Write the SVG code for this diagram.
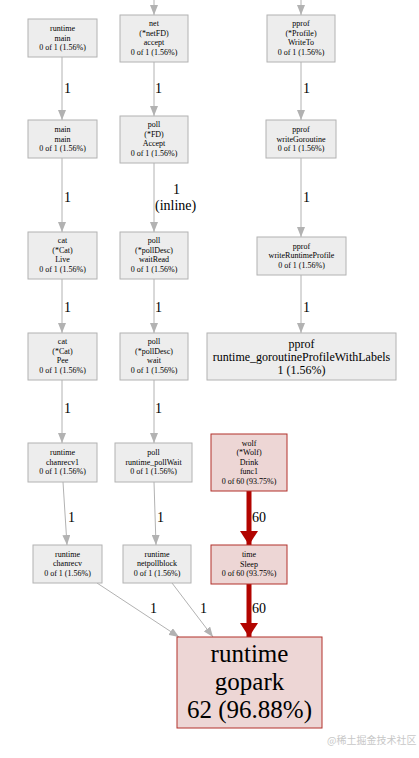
<svg xmlns="http://www.w3.org/2000/svg" width="419" height="758" viewBox="0 0 419 758">
<defs>
<style>
.n rect{fill:#ededed;stroke:#b2b2b2;stroke-width:1}
.h rect{fill:#edd6d5;stroke:#b2302b;stroke-width:1}
text{font-family:"Liberation Serif","Times New Roman",serif;fill:#000;text-anchor:middle}
.s{font-size:8px}
.m{font-size:12px}
.b{font-size:25px}
.l{font-size:14px;text-anchor:start}
.e{stroke:#b2b2b2;stroke-width:1;fill:none;marker-end:url(#ag)}
.r{stroke:#b20400;stroke-width:5;fill:none;marker-end:url(#ar)}
.wm{font-family:"Noto Sans CJK SC","Liberation Sans",sans-serif;font-size:10px;fill:#c8c8c8;text-anchor:start}
</style>
<marker id="ag" markerUnits="userSpaceOnUse" viewBox="0 0 10 8" refX="10" refY="4" markerWidth="10" markerHeight="8" orient="auto"><path d="M0,0L10,4L0,8Z" fill="#b2b2b2"/></marker>
<marker id="ar" markerUnits="userSpaceOnUse" viewBox="0 0 14 18" refX="14" refY="9" markerWidth="14" markerHeight="18" orient="auto"><path d="M0,0L14,9L0,18Z" fill="#b20400"/></marker>
</defs>
<rect width="419" height="758" fill="#fff"/>
<g id="edges">
<path class="e" d="M154,0V15"/>
<path class="e" d="M301,0V15"/>
<path class="e" d="M62,57V120"/>
<path class="e" d="M154,62V116"/>
<path class="e" d="M62,158V232"/>
<path class="e" d="M154,163V232"/>
<path class="e" d="M62,279V333"/>
<path class="e" d="M154,279V333"/>
<path class="e" d="M62,380V443"/>
<path class="e" d="M154,380V443"/>
<path class="e" d="M63,482L67,545"/>
<path class="e" d="M154,482L156,545"/>
<path class="e" d="M97,583L179,637"/>
<path class="e" d="M172,583L213,637"/>
<path class="e" d="M301,62V120"/>
<path class="e" d="M301,158V237"/>
<path class="e" d="M301,275V333"/>
<path class="r" d="M249,491V545"/>
<path class="r" d="M249,584V637"/>
<text class="l" x="64" y="93">1</text>
<text class="l" x="155" y="93">1</text>
<text class="l" x="64" y="202">1</text>
<text class="l" x="173" y="194">1</text>
<text class="l" x="155" y="210">(inline)</text>
<text class="l" x="64" y="312">1</text>
<text class="l" x="155" y="312">1</text>
<text class="l" x="64" y="413">1</text>
<text class="l" x="155" y="413">1</text>
<text class="l" x="68" y="522">1</text>
<text class="l" x="157" y="522">1</text>
<text class="l" x="150" y="613">1</text>
<text class="l" x="200" y="613">1</text>
<text class="l" x="303" y="93">1</text>
<text class="l" x="303" y="202">1</text>
<text class="l" x="303" y="312">1</text>
<text class="l" x="252" y="522">60</text>
<text class="l" x="252" y="613">60</text>
</g>
<g id="runtime_main" class="n"><rect x="28" y="19" width="69" height="38"/><text class="s" x="62.5" y="31">runtime</text><text class="s" x="62.5" y="41">main</text><text class="s" x="62.5" y="50">0 of 1 (1.56%)</text></g>
<g id="net_accept" class="n"><rect x="120" y="15" width="68" height="47"/><text class="s" x="154" y="26">net</text><text class="s" x="154" y="36">(*netFD)</text><text class="s" x="154" y="45">accept</text><text class="s" x="154" y="55">0 of 1 (1.56%)</text></g>
<g id="pprof_writeto" class="n"><rect x="267" y="15" width="68" height="47"/><text class="s" x="301" y="26">pprof</text><text class="s" x="301" y="36">(*Profile)</text><text class="s" x="301" y="45">WriteTo</text><text class="s" x="301" y="55">0 of 1 (1.56%)</text></g>
<g id="main_main" class="n"><rect x="28" y="120" width="69" height="38"/><text class="s" x="62.5" y="132">main</text><text class="s" x="62.5" y="142">main</text><text class="s" x="62.5" y="151">0 of 1 (1.56%)</text></g>
<g id="poll_accept" class="n"><rect x="120" y="116" width="68" height="47"/><text class="s" x="154" y="127">poll</text><text class="s" x="154" y="137">(*FD)</text><text class="s" x="154" y="146">Accept</text><text class="s" x="154" y="156">0 of 1 (1.56%)</text></g>
<g id="pprof_writegoroutine" class="n"><rect x="266" y="120" width="70" height="38"/><text class="s" x="301" y="132">pprof</text><text class="s" x="301" y="142">writeGoroutine</text><text class="s" x="301" y="151">0 of 1 (1.56%)</text></g>
<g id="cat_live" class="n"><rect x="28" y="232" width="69" height="47"/><text class="s" x="62.5" y="243">cat</text><text class="s" x="62.5" y="253">(*Cat)</text><text class="s" x="62.5" y="262">Live</text><text class="s" x="62.5" y="272">0 of 1 (1.56%)</text></g>
<g id="poll_waitread" class="n"><rect x="120" y="232" width="68" height="47"/><text class="s" x="154" y="243">poll</text><text class="s" x="154" y="253">(*pollDesc)</text><text class="s" x="154" y="262">waitRead</text><text class="s" x="154" y="272">0 of 1 (1.56%)</text></g>
<g id="pprof_writeruntimeprofile" class="n"><rect x="257" y="237" width="89" height="38"/><text class="s" x="301.5" y="249">pprof</text><text class="s" x="301.5" y="258">writeRuntimeProfile</text><text class="s" x="301.5" y="268">0 of 1 (1.56%)</text></g>
<g id="cat_pee" class="n"><rect x="28" y="333" width="69" height="47"/><text class="s" x="62.5" y="344">cat</text><text class="s" x="62.5" y="354">(*Cat)</text><text class="s" x="62.5" y="363">Pee</text><text class="s" x="62.5" y="373">0 of 1 (1.56%)</text></g>
<g id="poll_wait" class="n"><rect x="120" y="333" width="68" height="47"/><text class="s" x="154" y="344">poll</text><text class="s" x="154" y="354">(*pollDesc)</text><text class="s" x="154" y="363">wait</text><text class="s" x="154" y="373">0 of 1 (1.56%)</text></g>
<g id="pprof_goroutineprofile" class="n"><rect x="207" y="333" width="189" height="47"/><text class="m" x="301.5" y="348">pprof</text><text class="m" x="301.5" y="361">runtime_goroutineProfileWithLabels</text><text class="m" x="301.5" y="374">1 (1.56%)</text></g>
<g id="runtime_chanrecv1" class="n"><rect x="28" y="443" width="69" height="39"/><text class="s" x="62.5" y="455">runtime</text><text class="s" x="62.5" y="465">chanrecv1</text><text class="s" x="62.5" y="474">0 of 1 (1.56%)</text></g>
<g id="poll_runtime_pollwait" class="n"><rect x="115" y="443" width="77" height="39"/><text class="s" x="153.5" y="455">poll</text><text class="s" x="153.5" y="465">runtime_pollWait</text><text class="s" x="153.5" y="474">0 of 1 (1.56%)</text></g>
<g id="wolf_drink_func1" class="h"><rect x="211" y="434" width="76" height="57"/><text class="s" x="249" y="446">wolf</text><text class="s" x="249" y="455">(*Wolf)</text><text class="s" x="249" y="465">Drink</text><text class="s" x="249" y="474">func1</text><text class="s" x="249" y="484">0 of 60 (93.75%)</text></g>
<g id="runtime_chanrecv" class="n"><rect x="33" y="545" width="69" height="38"/><text class="s" x="67.5" y="557">runtime</text><text class="s" x="67.5" y="566">chanrecv</text><text class="s" x="67.5" y="576">0 of 1 (1.56%)</text></g>
<g id="runtime_netpollblock" class="n"><rect x="123" y="545" width="68" height="38"/><text class="s" x="157" y="557">runtime</text><text class="s" x="157" y="566">netpollblock</text><text class="s" x="157" y="576">0 of 1 (1.56%)</text></g>
<g id="time_sleep" class="h"><rect x="211" y="545" width="76" height="39"/><text class="s" x="249" y="557">time</text><text class="s" x="249" y="567">Sleep</text><text class="s" x="249" y="576">0 of 60 (93.75%)</text></g>
<g id="runtime_gopark" class="h"><rect x="177" y="637" width="145" height="91"/><text class="b" x="249.5" y="662">runtime</text><text class="b" x="249.5" y="690">gopark</text><text class="b" x="249.5" y="718">62 (96.88%)</text></g>
<text class="wm" x="327" y="744">@稀土掘金技术社区</text>
</svg>
